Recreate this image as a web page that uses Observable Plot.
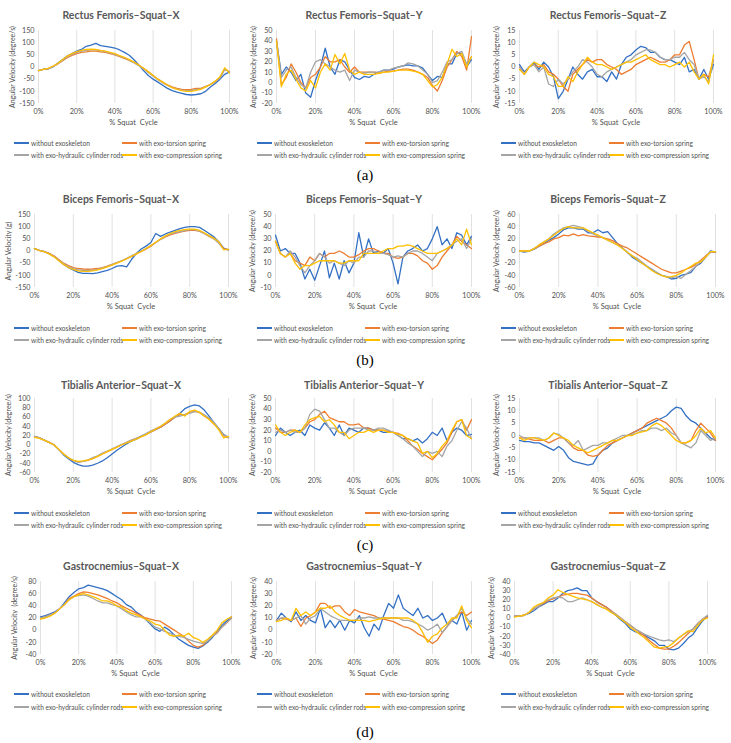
<!DOCTYPE html>
<html><head><meta charset="utf-8">
<script src="https://cdn.jsdelivr.net/npm/d3@7"></script>
<script src="https://cdn.jsdelivr.net/npm/@observablehq/plot@0.6"></script>
<style>
html,body{margin:0;padding:0;background:#fff;}
body{width:731px;height:743px;position:relative;overflow:hidden;font-family:Lato,"Liberation Sans",sans-serif;color:#595959;}
.t{position:absolute;white-space:pre;line-height:1;}
.abs{position:absolute;}
</style></head><body>
<script>
// ---- categories / tick labels ----
const pct = d3.range(0, 100.01, 2.5);
const xTicks = [0, 20, 40, 60, 80, 100];
const seriesNames = ["without exoskeleton", "with exo-torsion spring", "with exo-hydraulic cylinder rods", "with exo-compression spring"];
const seriesColors = ["#3471c4", "#ed7d31", "#a5a5a5", "#ffc000"];

// ---- Rectus Femoris ----
const rfX_without = [-15,-10,-8,0,15,30,45,55,65,72, 85,90,97,88,85,82,78,70,60,48, 30,8,-15,-35,-50,-62,-75,-88,-97,-103, -108,-113,-115,-113,-110,-100,-82,-68,-50,-30, -20];
const rfX_torsion = [-15,-10,-8,2,12,25,38,48,55,60, 62,65,65,62,60,55,50,43,35,27, 18,7,-5,-20,-35,-50,-62,-73,-82,-88, -92,-93,-92,-88,-88,-80,-72,-60,-45,-8, -20];
const rfX_hydraulic = [-15,-10,-8,2,12,27,42,52,60,65, 68,70,70,67,63,58,52,45,38,28, 18,5,-8,-23,-38,-52,-65,-76,-85,-91, -95,-97,-97,-93,-90,-82,-72,-60,-45,-10, -20];
const rfX_compression = [-15,-10,-6,3,14,30,45,55,63,68, 72,73,72,68,65,60,55,47,40,30, 20,8,-5,-20,-35,-50,-62,-75,-85,-92, -97,-100,-100,-96,-92,-82,-72,-58,-40,-3, -25];

const rfY_without = [40,8,15,10,2,8,-10,-14,2,15, 33,15,8,22,20,12,5,3,6,5, 8,10,12,12,13,15,16,17,16,16, 14,8,2,6,5,18,18,28,28,15, 22];
const rfY_torsion = [42,-2,5,18,10,0,-5,5,8,15, 25,20,20,22,15,10,15,10,10,10, 10,9,10,11,11,12,13,13,12,10, 8,5,-3,-8,2,15,22,30,25,12, 44];
const rfY_hydraulic = [40,5,12,15,5,-2,-5,10,20,22, 18,15,12,10,12,2,12,10,9,10, 10,10,12,12,14,15,16,19,18,16, 12,8,0,2,10,20,22,28,30,18, 25];
const rfY_compression = [40,-4,8,12,3,-5,-8,2,-5,10, 18,12,27,18,28,12,8,10,8,8, 8,9,10,10,11,12,12,12,11,10, 8,2,-4,-2,5,18,32,25,28,15, 25];

const rfZ_without = [1,-2,0,2,-1,2,0,-4,-13,-10, -5,0,-3,-5,-2,-1,-4,-4,-6,-2, -5,1,4,5,7,8.5,8,6,6,4, 3,3,2,1,4,-2,-1,-5,-1,-5, 1];
const rfZ_torsion = [0,-3,0,1,0,1,-2,-3,-5,-8, -10,-3,-1,1,3,2,3,3,1,0, -1,-3,-2,-1,1,2,3,4,3,2, 2,3,5,5,9,10.5,3,-5,-3,-4, 3];
const rfZ_hydraulic = [0,-3,0,1,-2,0,-7,-8,-5,-7, -5,-2,0,3,2,0,-3,-4,-2,-1, 0,1,2,3,5,6,7,7,6,4, 3,3,4,4,6,3,1,-5,-4,-6, 3];
const rfZ_compression = [-1,-3,0,2,1,0,-3,-4,-8,-8, -4,-6,-2,1,4,2,1,1,0,-1, 0,1,2,2,3,4,5,3,2,1, 1,0,1,2,0,2,-2,-5,-3,-7, 5];

// ---- Biceps Femoris ----
const bfX_without = [10,3,-2,-10,-22,-38,-55,-68,-78,-88, -92,-92,-93,-90,-85,-80,-72,-62,-60,-65, -35,-10,8,20,35,72,60,70,78,85, 92,97,100,100,97,85,72,58,38,12, 5];
const bfX_torsion = [10,3,-3,-10,-20,-35,-50,-60,-68,-72, -74,-75,-74,-72,-68,-62,-55,-48,-40,-32, -22,-12,-2,8,20,35,48,58,66,72, 78,82,85,85,82,72,60,50,35,10, 5];
const bfX_hydraulic = [10,3,-3,-12,-22,-38,-52,-65,-72,-78, -80,-80,-80,-76,-70,-64,-56,-48,-40,-30, -20,-10,0,10,22,35,48,60,70,76, 80,84,88,88,82,72,62,50,32,8, 5];
const bfX_compression = [10,2,-3,-12,-24,-40,-55,-68,-76,-82, -84,-84,-82,-78,-72,-65,-58,-50,-42,-32, -22,-12,-2,10,22,36,50,62,72,80, 85,88,90,90,85,75,63,52,38,5, 8];

const bfY_without = [33,20,22,18,18,10,-3,5,-4,8, 20,-2,10,-3,12,2,10,35,15,30, 18,20,18,22,10,-7,15,20,22,25, 20,22,30,40,25,30,22,35,33,25, 32];
const bfY_torsion = [28,18,15,18,12,10,8,15,12,18, 15,18,18,20,18,15,15,17,20,22, 22,20,18,18,15,14,15,18,18,16, 12,10,5,8,15,20,25,32,28,25, 22];
const bfY_hydraulic = [28,18,15,20,15,8,2,8,12,18, 15,10,12,10,8,12,10,15,15,20, 20,18,18,17,15,16,15,18,20,20, 18,15,12,18,20,22,25,28,30,22, 30];
const bfY_compression = [28,18,15,18,10,5,8,8,10,12, 12,12,12,10,10,12,12,12,18,18, 18,18,20,22,22,24,24,25,24,22, 20,18,18,18,20,22,25,30,25,38, 25];

const bfZ_without = [0,-2,0,3,8,12,18,22,28,35, 38,38,36,36,30,30,35,30,32,22, 12,5,-2,-10,-15,-20,-25,-30,-36,-40, -42,-46,-45,-40,-38,-35,-25,-20,-10,0, -2];
const bfZ_torsion = [0,0,0,4,8,12,15,20,22,26, 25,28,25,27,25,24,23,22,20,17, 12,8,5,0,-5,-10,-15,-20,-25,-30, -33,-36,-36,-33,-30,-27,-22,-15,-8,-2, -2];
const bfZ_hydraulic = [0,-1,0,4,10,15,20,28,33,38, 40,42,40,38,32,28,25,22,18,14, 10,5,-2,-8,-12,-18,-25,-30,-35,-40, -42,-44,-42,-45,-38,-32,-25,-18,-10,-2, -1];
const bfZ_compression = [0,0,0,4,10,15,20,26,32,37, 40,38,38,38,34,30,26,22,18,14, 10,4,-2,-8,-14,-20,-26,-32,-37,-40, -43,-42,-40,-36,-30,-25,-20,-18,-10,-1, -1];

// ---- Tibialis Anterior ----
const taX_without = [18,15,10,5,0,-10,-22,-30,-38,-43, -46,-46,-44,-40,-35,-28,-20,-12,-5,2, 8,12,18,23,28,33,38,45,52,60, 68,78,83,86,84,75,62,48,35,22, 16];
const taX_torsion = [18,15,10,5,0,-10,-20,-28,-34,-37, -36,-34,-30,-25,-20,-15,-10,-5,0,5, 10,14,18,22,28,33,38,45,52,60, 65,65,70,72,70,62,55,45,35,20, 15];
const taX_hydraulic = [18,15,10,5,0,-10,-20,-28,-34,-38, -36,-33,-28,-24,-18,-14,-9,-4,1,5, 10,14,19,24,30,35,40,47,55,60, 62,65,68,72,70,65,58,48,35,22, 16];
const taX_compression = [16,14,10,5,0,-10,-20,-28,-34,-36, -35,-33,-30,-25,-20,-15,-10,-5,0,4, 8,12,17,22,28,34,40,47,55,62, 68,62,72,75,70,62,55,45,32,15, 18];

const taY_without = [15,22,18,15,18,20,15,25,22,20, 27,22,15,25,15,22,20,18,22,22, 20,20,18,18,18,15,12,12,10,12, 8,12,18,15,22,10,18,22,20,15, 16];
const taY_torsion = [22,18,18,20,20,18,22,28,30,35, 38,32,30,28,28,25,25,26,22,22, 20,20,20,19,18,17,15,10,5,2, -2,-5,-8,-3,2,8,18,28,30,20, 30];
const taY_hydraulic = [18,20,18,20,18,18,22,35,40,38, 30,22,22,18,15,20,22,22,22,20, 20,22,22,20,18,15,12,8,5,0, -5,0,-2,0,-5,5,10,20,28,22, 12];
const taY_compression = [25,18,15,18,20,18,25,30,32,33, 28,30,25,18,18,12,15,18,18,20, 18,20,20,18,18,16,15,12,10,8, -2,0,-6,-2,5,10,20,28,30,15, 12];

const taZ_without = [-2,-2.5,-2.5,-3,-3,-4,-5,-6,-4.5,-6, -9,-10.5,-11,-11.5,-12,-11.5,-8,-6,-5,-3, -2,-1,0,1,2,3,4,5,6,7, 8,10,11.5,11,8,6,5,3,1,-1, -2];
const taZ_torsion = [-1,-1,-1.5,-2,-2,-2,-3,-2,-1,-1, -3,-5,-6,-6,-8,-8.5,-8,-6,-4,-3, -2,-1,0,1,2,3,5,6,7,6, 5,3,0,-3,-3,-2,2,5,3,1, -2];
const taZ_hydraulic = [0,-1,-1,-1,-1,-2,-1,1,0.5,-1, -3,-4,-2,-6,-5,-4,-4,-3,-3,-2, -1,0,0,0.5,1,2,2,3,3,2, 3,1,0,-3,-4,-5,-3,2,0,-2, -1];
const taZ_compression = [-1,-2,-1,-1,-1.5,-2,-1,1,0,-1, -2,-4,-5,-6,-7,-6,-5,-4,-3,-2, -2,-1,0,0,1,1.5,2,4,5,4, 2,0,-2,-3,-3,-2,0,3,1,2, -1];

// ---- Gastrocnemius ----
const gaX_without = [22,24,27,30,35,45,55,62,68,70, 74,72,70,68,65,60,55,50,42,38, 30,25,18,10,2,-2,5,0,-8,-15, -20,-25,-28,-30,-26,-20,-12,-2,8,15, 22];
const gaX_torsion = [20,22,25,28,35,42,52,56,60,63, 62,60,58,55,52,48,45,40,36,32, 28,24,20,18,16,15,10,5,0,-5, -10,-18,-25,-28,-25,-18,-10,-3,5,12, 20];
const gaX_hydraulic = [20,22,25,28,35,42,50,55,57,58, 56,52,48,45,45,42,40,35,30,25, 22,22,18,12,5,2,-2,-5,-8,-10, -12,-15,-18,-20,-22,-18,-10,-5,5,12, 20];
const gaX_compression = [18,20,23,28,35,42,50,55,58,60, 58,55,52,48,48,45,40,38,32,28, 25,22,18,15,10,8,0,-8,-10,-8, -10,-5,-12,-15,-20,-15,-8,0,12,18, 22];

const gaY_without = [8,14,10,7,15,8,12,8,6,18, 2,8,2,8,0,8,6,12,2,-5, 5,0,12,22,18,29,18,15,12,18, 10,12,8,10,14,5,8,5,15,0, 8];
const gaY_torsion = [8,10,9,8,10,3,10,12,15,22, 22,18,20,20,15,12,17,15,14,13, 12,10,9,8,7,5,3,2,0,-3, -5,-8,-11,-8,-2,3,8,12,15,12, 15];
const gaY_hydraulic = [8,10,10,8,10,12,5,10,12,18, 15,12,10,8,8,8,8,10,10,11, 10,10,10,10,10,10,8,8,7,5, 3,0,2,5,-2,3,8,12,18,10, 5];
const gaY_compression = [7,8,10,8,18,12,15,12,15,18, 18,20,15,12,10,8,8,8,8,7, 8,9,10,10,10,10,10,10,8,5, -2,-10,-5,-3,2,5,10,10,20,8, 2];

const gaZ_without = [2,2,3,5,8,12,15,18,18,22, 27,30,31,33,30,30,22,18,15,12, 8,3,-2,-6,-12,-15,-17,-19,-22,-25, -30,-30,-34,-35,-33,-28,-22,-18,-10,-3, 2];
const gaZ_torsion = [2,2,3,6,10,13,16,19,21,23, 25,26,27,27,26,25,22,18,15,12, 8,4,0,-4,-8,-12,-16,-20,-25,-29, -33,-34,-34,-31,-27,-22,-17,-12,-6,-1, 1];
const gaZ_hydraulic = [2,2,3,6,10,13,17,20,22,23, 22,18,18,20,22,20,18,15,12,10, 7,4,0,-4,-8,-12,-15,-18,-20,-22, -24,-25,-24,-26,-22,-18,-15,-12,-6,-1, 3];
const gaZ_compression = [1,2,3,6,12,15,17,22,25,31, 28,26,24,22,21,20,18,15,12,10, 6,3,-1,-5,-10,-14,-18,-22,-27,-32, -33,-32,-31,-27,-22,-18,-14,-15,-8,-2, 0];

// ---- panel definitions ----
const panels = [
  {row:0,col:0,title:"Rectus Femoris–Squat–X",ylabel:"Angular Velocity (degree/s)",yd:[-150,150],step:50,s:[rfX_without,rfX_torsion,rfX_hydraulic,rfX_compression]},
  {row:0,col:1,title:"Rectus Femoris–Squat–Y",ylabel:"Angular Velocity (degree/s)",yd:[-20,50],step:10,s:[rfY_without,rfY_torsion,rfY_hydraulic,rfY_compression]},
  {row:0,col:2,title:"Rectus Femoris–Squat–Z",ylabel:"Angular Velocity (degree/s)",yd:[-15,15],step:5,s:[rfZ_without,rfZ_torsion,rfZ_hydraulic,rfZ_compression]},
  {row:1,col:0,title:"Biceps Femoris–Squat–X",ylabel:"Angular Velocity (g)",yd:[-150,150],step:50,s:[bfX_without,bfX_torsion,bfX_hydraulic,bfX_compression]},
  {row:1,col:1,title:"Biceps Femoris–Squat–Y",ylabel:"Angular Velocity (degree/s)",yd:[-10,50],step:10,s:[bfY_without,bfY_torsion,bfY_hydraulic,bfY_compression]},
  {row:1,col:2,title:"Biceps Femoris–Squat–Z",ylabel:"Angular Velocity (degree/s)",yd:[-60,60],step:20,s:[bfZ_without,bfZ_torsion,bfZ_hydraulic,bfZ_compression]},
  {row:2,col:0,title:"Tibialis Anterior–Squat–X",ylabel:"Angular Velocity (degree/s)",yd:[-60,100],step:20,s:[taX_without,taX_torsion,taX_hydraulic,taX_compression]},
  {row:2,col:1,title:"Tibialis Anterior–Squat–Y",ylabel:"Angular Velocity (degree/s)",yd:[-20,50],step:10,s:[taY_without,taY_torsion,taY_hydraulic,taY_compression]},
  {row:2,col:2,title:"Tibialis Anterior–Squat–Z",ylabel:"Angular Velocity (degree/s)",yd:[-15,15],step:5,s:[taZ_without,taZ_torsion,taZ_hydraulic,taZ_compression]},
  {row:3,col:0,title:"Gastrocnemius–Squat–X",ylabel:"Angular Velocity  (degree/s)",yd:[-40,80],step:20,s:[gaX_without,gaX_torsion,gaX_hydraulic,gaX_compression]},
  {row:3,col:1,title:"Gastrocnemius–Squat–Y",ylabel:"Angular Velocity (degree/s)",yd:[-20,40],step:10,s:[gaY_without,gaY_torsion,gaY_hydraulic,gaY_compression]},
  {row:3,col:2,title:"Gastrocnemius–Squat–Z",ylabel:"Angular Velocity (degree/s)",yd:[-40,40],step:10,s:[gaZ_without,gaZ_torsion,gaZ_hydraulic,gaZ_compression]}
];

// ---- layout ----
const rows = [
  {top:30, bottom:103, titleY:15, legY:[143,155], tag:"(a)", tagY:175, xs:[[38,229],[276,471],[519,713]]},
  {top:214,bottom:287, titleY:199, legY:[328,340], tag:"(b)", tagY:360, xs:[[34,228],[275,471],[519,715]]},
  {top:398,bottom:472, titleY:385, legY:[513,525], tag:"(c)", tagY:545, xs:[[34,228],[275,471],[519,715]]},
  {top:581,bottom:654, titleY:566, legY:[694,707], tag:"(d)", tagY:732, xs:[[40,231],[276,471],[514,707]]}
];
const cols = [{left:0,w:243},{left:243,w:244},{left:487,w:244}];

function txt(s, x, y, css, tf) {
  const d = document.createElement("div");
  d.className = "t";
  d.textContent = s;
  d.style.left = x + "px"; d.style.top = y + "px";
  d.style.transform = tf || "translate(-50%,-50%)";
  Object.assign(d.style, css || {});
  document.body.appendChild(d);
  return d;
}
function bar(x1, x2, y, color) {
  const d = document.createElement("div");
  d.className = "abs";
  Object.assign(d.style, {left:x1+"px", top:(y-0.75)+"px", width:(x2-x1)+"px", height:"1.6px", background:color});
  document.body.appendChild(d);
}

const mt = 4, mb = 16;
panels.forEach(p => {
  const r = rows[p.row], c = cols[p.col];
  const [x0, x1] = r.xs[p.col];
  const data = [];
  p.s.forEach((vals, i) => vals.forEach((v, j) => data.push({x: pct[j], y: v, s: seriesNames[i]})));
  const yTicks = d3.range(p.yd[0], p.yd[1] + p.step / 2, p.step);
  const chart = Plot.plot({
    width: c.w,
    height: (r.bottom - r.top) + mt + mb,
    marginLeft: x0 - c.left,
    marginRight: c.left + c.w - x1,
    marginTop: mt,
    marginBottom: mb,
    style: {fontFamily: "Lato, 'Liberation Sans', sans-serif", fontSize: "7.2px", color: "#505050", background: "transparent", overflow: "visible"},
    x: {domain: [0, 100], ticks: xTicks, tickFormat: d => d + "%", tickSize: 0, tickPadding: 5, label: null},
    y: {domain: p.yd, ticks: yTicks, tickFormat: d => String(d), tickSize: 0, tickPadding: 4, label: null},
    color: {domain: seriesNames, range: seriesColors},
    marks: [
      Plot.gridX(xTicks, {stroke: "#d9d9d9", strokeOpacity: 1, strokeWidth: 0.8}),
      Plot.lineY(data, {x: "x", y: "y", z: "s", stroke: "s", strokeWidth: 1.3})
    ]
  });
  chart.style.position = "absolute";
  chart.style.left = c.left + "px";
  chart.style.top = (r.top - mt) + "px";
  document.body.appendChild(chart);

  // title
  txt(p.title, c.left + 121, r.titleY, {fontSize: "10.5px", fontWeight: "bold", color: "#595959"});
  // y label
  const ylx = x0 - (p.col === 0 ? 26 : 23);
  txt(p.ylabel, ylx, (r.top + r.bottom) / 2, {fontSize: "7px", color: "#505050"}, "translate(-50%,-50%) rotate(-90deg)");
  // x label
  txt("% Squat  Cycle", (x0 + x1) / 2, r.bottom + 20, {fontSize: "7.5px", color: "#505050"});
  // legend
  const lx = [c.left + 14, c.left + 122];
  seriesNames.forEach((n, i) => {
    const col = i % 2, rr = Math.floor(i / 2);
    const y = r.legY[rr];
    bar(lx[col], lx[col] + 15, y, seriesColors[i]);
    txt(n, lx[col] + 17, y, {fontSize: "6.6px", color: "#505050"}, "translate(0,-50%)");
  });
});
rows.forEach(r => txt(r.tag, 365, r.tagY, {fontSize: "15px", fontFamily: "'Liberation Serif', serif", color: "#000"}));
</script>
</body></html>
